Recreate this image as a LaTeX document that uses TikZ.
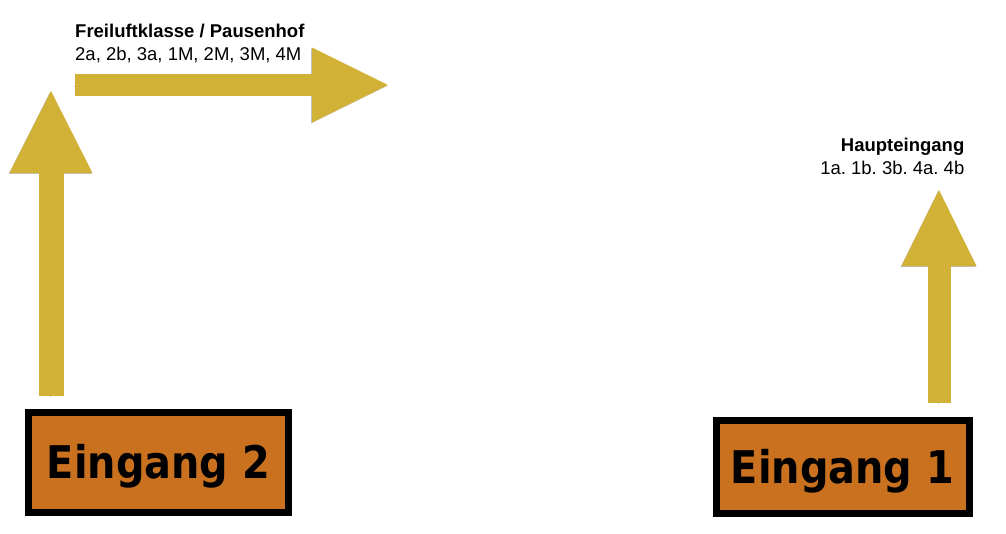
\documentclass[tikz,border=0pt]{standalone}
\usepackage{fontspec}
\setmainfont{Liberation Sans}
\newfontfamily\signfont[FakeStretch=0.885]{DejaVu Sans}
\usetikzlibrary{arrows.meta}
\definecolor{wayyellow}{HTML}{D1B236}
\definecolor{signorange}{HTML}{C9711F}
\def\waywidth{25pt}
\frenchspacing

\begin{document}
\begin{tikzpicture}[x=1pt,y=-1pt]
	\tikzstyle{sign}=[rectangle,draw=black,fill=signorange,line width=7pt,inner sep=0pt,text height=33pt,text depth=0pt,font=\signfont\bfseries\fontsize{45}{45}\selectfont]
	\tikzstyle{way}=[line width=\waywidth,draw=wayyellow,preaction={draw=black!25,transform canvas={xshift=-0.8pt,yshift=-0.8pt}}]
	\tikzstyle{annot}=[inner sep=0pt,font=\fontsize{18.5}{22.5}\selectfont]

	\useasboundingbox (0,0) rectangle (1006,533);

	\node[sign,minimum width=260pt,minimum height=100pt] (E2) at (158.5,462) {Eingang 2};
	\node[sign,minimum width=253pt,minimum height=93pt] (E1) at (842.5,466.5) {Eingang 1};

	\node[annot,align=left,anchor=north west] (P) at (75,24) {\textbf{Freiluftklasse / Pausenhof}\\2a, 2b, 3a, 1M, 2M, 3M, 4M};
	\node[annot,align=right,anchor=north east] (H) at (964.5,138) {\textbf{Haupteingang}\\1a. 1b. 3b. 4a. 4b};

	\coordinate (A2s) at (51,396);
	\coordinate (A2e) at (51,91);
	\coordinate (Ps) at (75,85);
	\coordinate (Pe) at (388,85);
	\coordinate (A1s) at (939,403);
	\coordinate (A1e) at (939,190);

	\draw[way,-{Triangle[length=82pt,width=83pt,line width=0pt]}] (A2s) -- (A2e);
	\draw[way,line width=22pt,-{Triangle[length=76pt,width=75pt,line width=0pt]}] (Ps) -- (Pe);
	\draw[way,line width=23pt,-{Triangle[length=76pt,width=75pt,line width=0pt]}] (A1s) -- (A1e);
\end{tikzpicture}
\end{document}
